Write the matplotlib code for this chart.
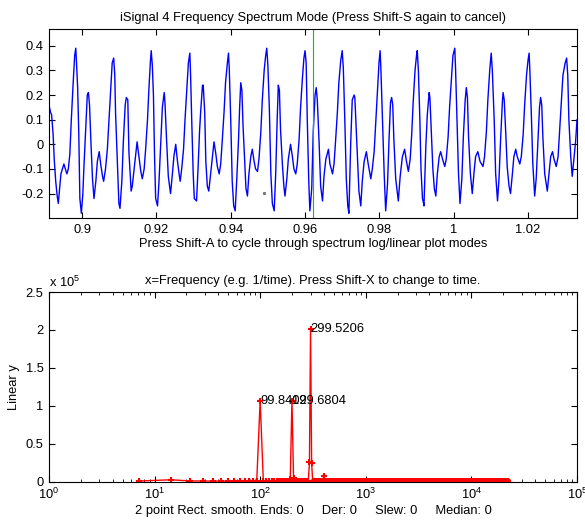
import matplotlib
matplotlib.use("Agg")
import matplotlib.pyplot as plt
import numpy as np
from matplotlib.ticker import FixedLocator, FuncFormatter, LogLocator, NullFormatter

plt.rcParams['font.family'] = ['Liberation Sans', 'DejaVu Sans']
plt.rcParams['font.size'] = 9.3
plt.rcParams['axes.titlesize'] = 9.3
plt.rcParams['mathtext.fontset'] = 'custom'
plt.rcParams['mathtext.rm'] = 'Liberation Sans'
plt.rcParams['mathtext.it'] = 'Liberation Sans'

# signal segment (time in ms, amplitude)
time_ms = [
    891.1, 891.5, 891.8, 892.2, 892.5, 892.9, 893.3, 893.6, 894.0, 894.3,
    894.7, 895.1, 895.5, 895.9, 896.3, 896.7, 897.1, 897.6, 898.0, 898.3,
    898.5, 898.8, 899.1, 899.4, 899.8, 900.2, 900.5, 901.0, 901.4, 901.7,
    902.0, 902.4, 902.8, 903.2, 903.7, 904.1, 904.6, 905.0, 905.5, 905.8,
    906.3, 906.8, 907.2, 907.7, 908.1, 908.5, 908.8, 909.0, 909.5, 909.9,
    910.2, 910.7, 911.1, 911.6, 911.9, 912.3, 912.6, 913.2, 913.5, 914.0,
    914.4, 914.8, 915.3, 915.8, 916.2, 916.7, 917.1, 917.6, 918.0, 918.4,
    918.6, 918.9, 919.2, 919.5, 919.8, 920.3, 920.7, 921.2, 921.6, 922.1,
    922.3, 922.7, 923.2, 923.8, 924.3, 924.7, 925.2, 925.6, 926.1, 926.4,
    926.8, 927.3, 927.7, 928.2, 928.6, 929.0, 929.2, 929.5, 929.9, 930.2,
    930.8, 931.2, 931.6, 931.9, 932.4, 932.6, 933.0, 933.3, 933.7, 934.1,
    934.6, 935.1, 935.5, 936.0, 936.4, 936.9, 937.3, 937.7, 938.2, 938.6,
    939.1, 939.4, 939.6, 940.0, 940.4, 940.8, 941.2, 941.6, 942.1, 942.4,
    942.7, 943.0, 943.3, 943.8, 944.1, 944.5, 944.9, 945.4, 945.8, 946.3,
    946.7, 947.2, 947.6, 948.1, 948.5, 949.0, 949.4, 949.7, 950.0, 950.4,
    950.8, 951.2, 951.7, 952.1, 952.5, 952.8, 953.1, 953.4, 953.9, 954.3,
    954.6, 955.1, 955.5, 956.1, 956.6, 957.0, 957.5, 957.9, 958.4, 958.8,
    959.3, 959.7, 960.0, 960.3, 960.6, 961.0, 961.3, 961.8, 962.2, 962.7,
    963.0, 963.3, 963.8, 964.2, 964.7, 965.1, 965.6, 966.3, 966.7, 967.4,
    967.8, 968.2, 968.7, 969.1, 969.6, 970.0, 970.3, 970.7, 971.1, 971.5,
    971.8, 972.3, 972.7, 973.2, 973.4, 973.8, 974.2, 974.5, 975.0, 975.4,
    975.9, 976.5, 977.0, 977.7, 978.1, 978.6, 979.0, 979.5, 979.9, 980.2,
    980.4, 980.8, 981.3, 981.7, 982.2, 982.6, 983.0, 983.3, 983.6, 983.9,
    984.4, 985.1, 985.6, 986.2, 986.8, 987.3, 987.8, 988.3, 988.7, 989.1,
    989.6, 990.0, 990.2, 990.5, 990.9, 991.2, 991.6, 991.9, 992.0, 992.5,
    992.9, 993.4, 993.6, 994.0, 994.4, 994.8, 995.2, 995.6, 996.1, 996.5,
    997.0, 997.6, 998.0, 998.5, 998.9, 999.4, 999.8, 1000.3, 1000.5, 1000.9,
    1001.3, 1001.7, 1002.2, 1002.6, 1003.1, 1003.4, 1003.7, 1004.0, 1004.5, 1005.0,
    1005.5, 1005.9, 1006.5, 1007.1, 1007.9, 1008.3, 1008.8, 1009.2, 1009.7, 1010.1,
    1010.4, 1010.9, 1011.3, 1011.8, 1012.2, 1012.6, 1013.1, 1013.3, 1013.6, 1014.0,
    1014.4, 1014.9, 1015.3, 1015.8, 1016.2, 1016.7, 1017.1, 1017.8, 1018.2, 1018.7,
    1019.1, 1019.6, 1020.0, 1020.3, 1020.5, 1020.9, 1021.3, 1021.8, 1022.2, 1022.7,
    1023.1, 1023.4, 1023.7, 1024.0, 1024.5, 1025.2, 1025.7, 1026.1, 1026.6, 1027.0,
    1027.6, 1028.1, 1028.5, 1029.0, 1029.4, 1030.0, 1030.4, 1030.7, 1031.0, 1031.5,
    1031.9, 1032.4, 1032.8, 1033.2,
]
signal = [
    0.16, 0.13, 0.12, 0.04, -0.06, -0.15, -0.21, -0.24, -0.17, -0.12,
    -0.10, -0.08, -0.10, -0.12, -0.10, -0.04, 0.10, 0.25, 0.36, 0.39,
    0.33, 0.23, 0.05, -0.22, -0.28, -0.20, -0.09, 0.07, 0.20, 0.21,
    0.16, 0.00, -0.14, -0.22, -0.15, -0.07, -0.03, -0.08, -0.13, -0.15,
    -0.10, -0.02, 0.09, 0.22, 0.33, 0.35, 0.28, 0.13, -0.08, -0.24,
    -0.26, -0.15, 0.01, 0.16, 0.19, 0.18, -0.03, -0.19, -0.17, -0.10,
    -0.04, 0.01, -0.05, -0.11, -0.14, -0.10, -0.02, 0.10, 0.23, 0.34,
    0.38, 0.32, 0.20, -0.05, -0.22, -0.25, -0.15, 0.02, 0.15, 0.21,
    0.17, 0.03, -0.13, -0.20, -0.12, -0.05, 0.00, -0.06, -0.12, -0.15,
    -0.10, -0.02, 0.10, 0.23, 0.33, 0.37, 0.28, 0.10, -0.12, -0.22,
    -0.23, -0.10, 0.05, 0.13, 0.24, 0.24, 0.13, -0.07, -0.17, -0.19,
    -0.12, -0.05, 0.01, -0.04, -0.09, -0.12, -0.08, 0.01, 0.13, 0.25,
    0.33, 0.37, 0.31, 0.10, -0.15, -0.25, -0.27, -0.15, 0.02, 0.15,
    0.25, 0.22, 0.08, -0.08, -0.18, -0.21, -0.12, -0.05, -0.02, -0.07,
    -0.10, -0.11, -0.06, 0.05, 0.18, 0.30, 0.36, 0.39, 0.32, 0.14,
    -0.12, -0.24, -0.27, -0.12, 0.10, 0.24, 0.22, 0.06, -0.08, -0.17,
    -0.21, -0.14, -0.06, 0.00, -0.05, -0.10, -0.12, -0.08, 0.02, 0.15,
    0.27, 0.35, 0.38, 0.33, 0.10, -0.15, -0.27, -0.18, 0.05, 0.20,
    0.23, 0.18, 0.00, -0.17, -0.23, -0.13, -0.06, -0.02, -0.08, -0.12,
    -0.08, 0.01, 0.13, 0.25, 0.34, 0.38, 0.31, 0.10, -0.14, -0.25,
    -0.28, 0.01, 0.18, 0.20, 0.19, 0.05, -0.10, -0.19, -0.25, -0.15,
    -0.07, -0.03, -0.08, -0.14, -0.10, -0.03, 0.08, 0.22, 0.33, 0.38,
    0.31, 0.12, -0.12, -0.27, -0.16, 0.02, 0.17, 0.19, 0.16, 0.02,
    -0.14, -0.23, -0.13, -0.05, -0.02, -0.07, -0.11, -0.06, 0.04, 0.17,
    0.30, 0.36, 0.38, 0.30, 0.10, -0.10, -0.22, -0.24, -0.25, -0.01,
    0.12, 0.21, 0.19, 0.05, -0.10, -0.18, -0.21, -0.12, -0.05, -0.03,
    -0.06, -0.09, -0.06, 0.03, 0.15, 0.27, 0.36, 0.39, 0.31, 0.10,
    -0.12, -0.24, -0.14, 0.03, 0.18, 0.23, 0.19, 0.03, -0.12, -0.20,
    -0.11, -0.05, -0.03, -0.07, -0.09, -0.05, 0.05, 0.18, 0.30, 0.37,
    0.30, 0.10, -0.12, -0.23, -0.14, 0.01, 0.17, 0.21, 0.18, 0.05,
    -0.09, -0.17, -0.20, -0.12, -0.05, -0.02, -0.05, -0.08, -0.05, 0.04,
    0.16, 0.28, 0.34, 0.37, 0.30, 0.12, -0.08, -0.21, -0.14, 0.02,
    0.15, 0.19, 0.16, 0.03, -0.12, -0.19, -0.11, -0.05, -0.03, -0.06,
    -0.09, -0.05, 0.05, 0.17, 0.28, 0.33, 0.35, 0.28, 0.10, -0.05,
    -0.13, -0.05, 0.01, 0.10,
]
cursor_ms = 962.2
stray_point = (949.0, -0.196)

# spectrum: bin width, number of bins, and amplitudes of the first 60 bins
freq_step = 99.8402 / 14
n_bins = 3092
low_bins = [
    900, 2500, 1000, 900, 800, 700, 800, 700, 900, 800,
    700, 1000, 1200, 107000, 1000, 700, 700, 700, 700, 700,
    700, 700, 700, 700, 800, 900, 4000, 107000, 4500, 900,
    800, 800, 800, 800, 800, 800, 800, 800, 900, 1000,
    25500, 201000, 24500, 1000, 800, 800, 800, 800, 800, 800,
    800, 800, 800, 800, 900, 7500, 700, 600, 600, 600,
]
floor_level = 300
peak_labels = ["99.8402", "199.6804", "299.5206"]
peak_bins = [14, 28, 42]

t = np.array(time_ms) / 1000.0
freq = np.arange(1, n_bins + 1) * freq_step
power = np.full(n_bins, float(floor_level))
power[:len(low_bins)] = low_bins

fig = plt.figure(figsize=(5.85, 5.25), dpi=100)
fig.patch.set_facecolor('white')

ax1 = fig.add_axes([0.0838, 0.5848, 0.9026, 0.36])
ax1.plot(t, signal, color='#0000ff', lw=1.0)
ax1.axvline(cursor_ms / 1000.0, color='#00cc00', lw=0.8)
ax1.plot(stray_point[0] / 1000.0, stray_point[1], 's', color='#777777', ms=1.2)
ax1.set_xlim(0.8911, 1.0332)
ax1.set_ylim(-0.299, 0.468)
xt = [0.9, 0.92, 0.94, 0.96, 0.98, 1.0, 1.02]
ax1.xaxis.set_major_locator(FixedLocator(xt))
ax1.set_xticklabels(["0.9", "0.92", "0.94", "0.96", "0.98", "1", "1.02"])
yt = [-0.2, -0.1, 0, 0.1, 0.2, 0.3, 0.4]
ax1.yaxis.set_major_locator(FixedLocator(yt))
ax1.set_yticklabels(["-0.2", "-0.1", "0", "0.1", "0.2", "0.3", "0.4"])
ax1.set_title("iSignal 4 Frequency Spectrum Mode (Press Shift-S again to cancel)",
              pad=6)
ax1.set_xlabel("Press Shift-A to cycle through spectrum log/linear plot modes",
               labelpad=2)

ax2 = fig.add_axes([0.0838, 0.0825, 0.9026, 0.3613])
ax2.plot(freq, power, color='#ff0000', lw=1.0, marker='+', ms=4, mew=1.5)
ax2.set_xscale('log')
ax2.set_xlim(1, 1e5)
ax2.set_ylim(0, 2.5e5)
ax2.xaxis.set_major_locator(LogLocator(base=10, numticks=10))
ax2.xaxis.set_minor_locator(LogLocator(base=10, subs=np.arange(2, 10), numticks=100))
ax2.xaxis.set_minor_formatter(NullFormatter())
ax2.yaxis.set_major_locator(FixedLocator([0, 0.5e5, 1e5, 1.5e5, 2e5, 2.5e5]))
ax2.yaxis.set_major_formatter(FuncFormatter(lambda v, p: "%g" % (v / 1e5)))
ax2.text(0.0, 1.012, r"x 10$^5$", transform=ax2.transAxes,
         ha='left', va='bottom')
for lab, k in zip(peak_labels, peak_bins):
    ax2.text(freq[k - 1], power[k - 1], lab, ha='left', va='center')
ax2.set_title("x=Frequency (e.g. 1/time). Press Shift-X to change to time.",
              pad=6)
ax2.set_xlabel("2 point Rect. smooth. Ends: 0     Der: 0     Slew: 0     Median: 0",
               labelpad=2)
ax2.set_ylabel("Linear y", labelpad=4)

for ax in (ax1, ax2):
    ax.tick_params(which='major', direction='in', length=4, width=0.8,
                   top=True, right=True, pad=4)
    ax.tick_params(which='minor', direction='in', length=2, width=0.6,
                   top=True, right=True)
    for s in ax.spines.values():
        s.set_linewidth(0.8)
        s.set_color('black')

fig.savefig("out.png", dpi=100)
